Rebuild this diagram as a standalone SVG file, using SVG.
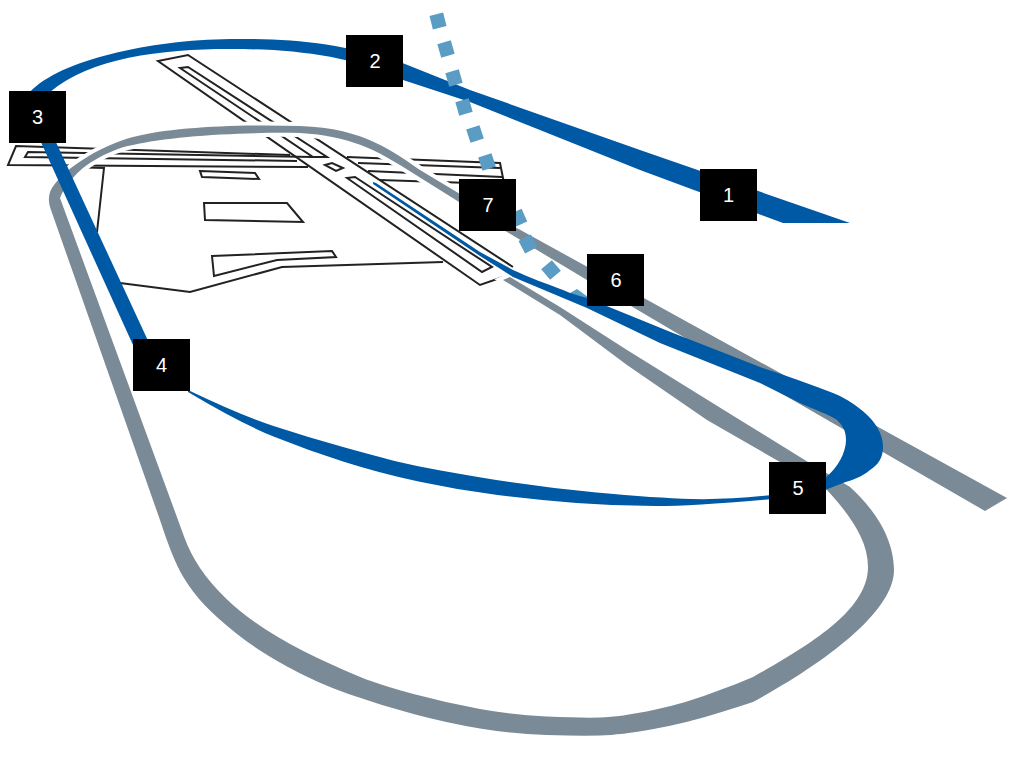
<svg xmlns="http://www.w3.org/2000/svg" width="1012" height="764" viewBox="0 0 1012 764">
<style>
.ln{fill:none;stroke:#222;stroke-width:2;stroke-linejoin:miter}
.gr{fill:#7a8a96;stroke:#fff;stroke-width:8;paint-order:stroke}
.bl{fill:#0059a4}
.box{fill:#000}
.lb{fill:#fff;font:20px "Liberation Sans",Arial,sans-serif;text-anchor:middle}
.dash{fill:#5a9cc4}
</style>
<defs><rect id="sq" x="-7" y="-7" width="14" height="14"/></defs>
<rect width="1012" height="764" fill="#fff"/>
<g id="airfield">
<path class="ln" d="M513,267L188,55L158,61L480,285L503,277"/>
<path class="ln" d="M180,68L188,67L327,157L313,157Z"/>
<path class="ln" d="M325,165L332,163L343,168L336,171Z"/>
<path class="ln" d="M347,178L355,177L492,267L482,272Z"/>
<path class="ln" d="M290,155L16,146L8,165L308,167"/>
<path class="ln" d="M313,157L28,152L25,157L297,161"/>
<path class="ln" d="M347,157L500,163L504,183M358,163L500,168M368,171L502,177M380,180L470,183"/>
<path class="ln" d="M67,167L104,168L97,232M120,283L190,292L282,267L443,262"/>
<path class="ln" d="M200,171L255,173L259,179L202,177Z"/>
<path class="ln" d="M204,203L287,203L303,222L205,220Z"/>
<path class="ln" d="M212,256L332,251L336,257L277,260L214,276Z"/>
</g>
<g id="connectors">
<path class="gr" d="M1007,498L515,227L420,170C395,153 365,128 300,126C240,124 170,127 133,137C100,146 60,170 50,192C48,200 49,204 51,210L160,520Q173,560 183,576.500Q193,593 205,605.500Q217,618 237,634Q257,650 287,666.500Q317,683 348.500,694Q380,705 413.500,714Q447,723 480,728.500Q513,734 546.500,735Q580,736 600,735.500Q620,735 653.500,729Q687,723 720,712.500Q738,707 753,702C830,660 894,610 894,570C894,535 870,505 850,487L808,462L740,420L627,350L560,307L510,277L503,280L560,315L627,365L707,420L780,462L827,490C850,515 868,540 868,567C868,610 810,645 753,677Q737,684 720,690Q687,703 653.500,710Q620,717 600,717.500Q580,718 546.500,716.500Q513,715 480,709Q447,703 413.500,694Q380,685 361.500,677.500Q343,670 316.500,657.500Q290,645 266.500,630Q243,615 226.500,599Q210,583 200,568Q190,553 184,536.500L178,520L60,198C65,185 75,175 83,168C100,155 120,147 133,145C170,136 240,132 300,133C350,136 375,150 400,165L507,232L587,280L675,332L985,511Z"/>
<path class="bl" d="M850,223L783,223L640,170L470,102L400,79C350,55 290,49 230,49C160,49 90,58 50,92L30,92C60,60 150,40 230,39C290,38 340,43 400,62L470,90L640,150Z"/>
<g class="dash">
<use href="#sq" transform="translate(438,21) rotate(-14)"/>
<use href="#sq" transform="translate(446,49) rotate(-16)"/>
<use href="#sq" transform="translate(454,78) rotate(-16)"/>
<use href="#sq" transform="translate(464,107) rotate(-16)"/>
<use href="#sq" transform="translate(475,134) rotate(-18)"/>
<use href="#sq" transform="translate(487,162) rotate(-18)"/>
<use href="#sq" transform="translate(518,218) rotate(-24)"/>
<use href="#sq" transform="translate(528,244) rotate(-28)"/>
<use href="#sq" transform="translate(551,270) rotate(-40)"/>
<path d="M565,296L577,289L592,300Z"/>
</g>
<path class="bl" d="M40,140L55,140L150,345L133,345Z"/>
<path class="bl" d="M188,390Q240,415 273.500,426Q307,437 343,447Q379,457 399,462Q419,467 478,477Q537,487 596.500,492.500Q656,498 691.500,499Q727,500 772,495L772,499Q695,506 655.500,506Q616,506 576.500,503Q537,500 497.500,495Q458,490 418.500,481.500Q379,473 343,461.500Q307,450 273.500,436.500Q240,423 188,392Z"/>
<path class="bl" d="M373,182L376,183L480,252L513,270C530,278 545,283 563,290C572,294 580,296 587,298L673,333L760,367Q800,380 833,393C848,399 868,412 877,427C881,434 883,440 883,447C883,458 878,465 870,470C862,477 852,480 843,483L825,490L825,478C838,468 846,452 846,440C846,430 842,425 837,420C828,414 815,410 800,403L760,383L660,343L587,308L513,277L480,256L373,184Z"/>
</g>
<g id="n1"><rect class="box" x="700" y="169" width="57" height="52"/><text class="lb" x="728.5" y="202">1</text></g>
<g id="n2"><rect class="box" x="346" y="35" width="57" height="52"/><text class="lb" x="375" y="68">2</text></g>
<g id="n3"><rect class="box" x="9" y="91" width="57" height="52"/><text class="lb" x="37.5" y="124">3</text></g>
<g id="n4"><rect class="box" x="133" y="339" width="57" height="52"/><text class="lb" x="161.500" y="372">4</text></g>
<g id="n5"><rect class="box" x="769" y="462" width="57" height="52"/><text class="lb" x="798" y="495">5</text></g>
<g id="n6"><rect class="box" x="587" y="254" width="57" height="52"/><text class="lb" x="616" y="287">6</text></g>
<g id="n7"><rect class="box" x="459" y="179" width="57" height="52"/><text class="lb" x="488" y="212">7</text></g>
</svg>
